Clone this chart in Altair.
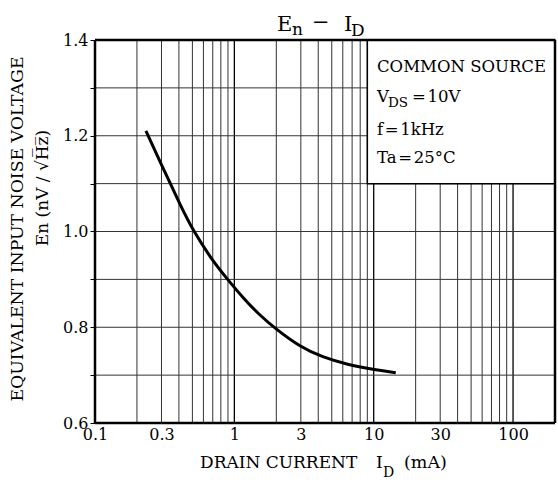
import altair as alt
import pandas as pd

# ---- data ----
current_mA = [0.232, 0.305, 0.414, 0.503, 0.7, 0.9, 1.19, 1.5, 1.95, 3.0, 4.25, 6.6, 10.3, 14.4]
noise_nV = [1.21, 1.135, 1.052, 1.003, 0.938, 0.899, 0.857, 0.827, 0.798, 0.758, 0.738, 0.721, 0.711, 0.705]

x_tick_values = [0.1, 0.3, 1, 3, 10, 30, 100]
y_tick_values = [0.6, 0.7, 0.8, 0.9, 1.0, 1.1, 1.2, 1.3, 1.4]
x_grid_minor = [0.2, 0.3, 0.4, 0.5, 0.6, 0.7, 0.8, 0.9,
                2, 3, 4, 5, 6, 7, 8, 9,
                20, 30, 40, 50, 60, 70, 80, 90]
x_grid_major = [1, 10, 100]
y_grid = [0.7, 0.8, 0.9, 1.0, 1.1, 1.2, 1.3]
x_domain = [0.1, 200]
y_domain = [0.6, 1.4]
legend_box = {"x": [9], "x2": [200], "y": [1.1], "y2": [1.4]}

W, H = 460, 383
PL, PT = 95, 40
FONT = "DejaVu Serif"

xs = alt.Scale(type="log", domain=x_domain, nice=False)
ys = alt.Scale(domain=y_domain, nice=False, zero=False)

x_axis = alt.Axis(
    values=x_tick_values, title=None, grid=False, ticks=False, domain=False,
    labelFont=FONT, labelFontSize=16, labelColor="black", labelPadding=3,
    labelFlush=False, labelOverlap=False,
    labelExpr="datum.value < 1 ? format(datum.value, '.1f') : format(datum.value, 'd')")
y_axis = alt.Axis(
    values=y_tick_values, title=None, grid=False, ticks=True, tickSize=5,
    tickColor="black", tickWidth=1, domain=False,
    labelFont=FONT, labelFontSize=16, labelColor="black", labelPadding=2,
    labelFlush=False, labelOverlap=False,
    labelExpr="round(datum.value * 10) % 2 == 0 ? format(datum.value, '.1f') : ''")


def txt(text, x, y, size, align="left", baseline="middle", angle=0):
    return alt.Chart(pd.DataFrame({"t": [text]})).mark_text(
        font=FONT, fontSize=size, align=align, baseline=baseline,
        angle=angle, color="black"
    ).encode(text="t:N", x=alt.value(x - PL), y=alt.value(y - PT))


grid_minor = alt.Chart(pd.DataFrame({"g": x_grid_minor})).mark_rule(
    color="#333333", strokeWidth=1).encode(x=alt.X("g:Q", scale=xs, axis=x_axis))
grid_major = alt.Chart(pd.DataFrame({"g": x_grid_major})).mark_rule(
    color="black", strokeWidth=1.3).encode(x=alt.X("g:Q", scale=xs, axis=x_axis))
grid_h = alt.Chart(pd.DataFrame({"g": y_grid})).mark_rule(
    color="#333333", strokeWidth=1).encode(y=alt.Y("g:Q", scale=ys, axis=y_axis))

box = alt.Chart(pd.DataFrame(legend_box)).mark_rect(
    fill="white", stroke="black", strokeWidth=1.5).encode(
    x=alt.X("x:Q", scale=xs, axis=x_axis), x2="x2:Q",
    y=alt.Y("y:Q", scale=ys, axis=y_axis), y2="y2:Q")

frame_v = alt.Chart(pd.DataFrame({"g": x_domain})).mark_rule(
    color="black", strokeWidth=2.5).encode(x=alt.X("g:Q", scale=xs, axis=x_axis))
frame_h = alt.Chart(pd.DataFrame({"g": y_domain})).mark_rule(
    color="black", strokeWidth=2.5).encode(y=alt.Y("g:Q", scale=ys, axis=y_axis))

curve = alt.Chart(pd.DataFrame({"I": current_mA, "E": noise_nV})).mark_line(
    color="black", strokeWidth=3, interpolate="basis").encode(
    x=alt.X("I:Q", scale=xs, axis=x_axis),
    y=alt.Y("E:Q", scale=ys, axis=y_axis))

texts = [
    # title
    txt("E", 277, 31, 21, baseline="alphabetic"),
    txt("n", 292, 35, 17, baseline="alphabetic"),
    txt("\u2212", 312, 29, 21, baseline="alphabetic"),
    txt("I", 344, 31, 21, baseline="alphabetic"),
    txt("D", 351, 36, 17, baseline="alphabetic"),
    # legend box
    txt("COMMON SOURCE", 377, 67, 16.5),
    txt("V", 377, 97, 16.5),
    txt("DS", 388, 103, 13.5),
    txt("=\u200a10V", 412, 97, 16.5),
    txt("f\u200a=\u200a1kHz", 377, 130, 16.5),
    txt("Ta\u200a=\u200a25\u00b0C", 377, 158, 16.5),
    # y title
    txt("EQUIVALENT INPUT NOISE VOLTAGE", 18, 229, 17.3, align="center", angle=270),
    txt("En     (nV / \u221aH\u0305z\u0305)", 43, 188, 17, align="center", angle=270),
    # x title
    txt("DRAIN CURRENT", 200, 463, 17),
    txt("I", 376, 463, 17),
    txt("D", 383, 477, 14, baseline="alphabetic"),
    txt("(mA)", 404, 463, 17.5),
]

chart = alt.layer(grid_minor, grid_major, grid_h, box, frame_v, frame_h, curve, *texts).properties(
    width=W, height=H,
    background="white",
    autosize=alt.AutoSizeParams(type="none"),
    padding={"left": PL, "top": PT, "right": 558 - PL - W, "bottom": 488 - PT - H},
).configure_view(stroke=None)

chart.save("out.html", embed_options={"renderer": "svg", "actions": False})
